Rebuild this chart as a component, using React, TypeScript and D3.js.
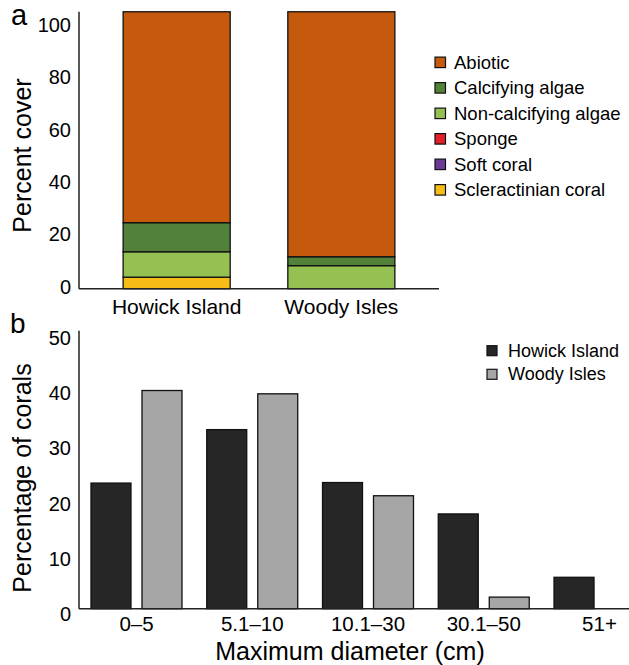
import React from 'react'
import * as d3 from 'd3'

// panel a: benthic cover per site
const sites = ['Howick Island', 'Woody Isles']
const coverCats = [
  'Scleractinian coral',
  'Soft coral',
  'Sponge',
  'Non-calcifying algae',
  'Calcifying algae',
  'Abiotic',
]
const howickCover = [4.4, 0, 0, 9.7, 11.1, 80.5]
const woodyCover = [0, 0, 0, 8.8, 3.4, 93.5]
const coverColors = ['#F7BD17', '#6B3A97', '#E3202A', '#94C152', '#52813A', '#C55A0E']
const coverTicks = [0, 20, 40, 60, 80, 100]
const legendOrder = [
  'Abiotic',
  'Calcifying algae',
  'Non-calcifying algae',
  'Sponge',
  'Soft coral',
  'Scleractinian coral',
]

// panel b: size classes
const sizeClasses = ['0–5', '5.1–10', '10.1–30', '30.1–50', '51+']
const howickSizes = [22.8, 32.5, 22.9, 17.2, 5.7]
const woodySizes = [39.6, 39.0, 20.5, 2.1, 0]
const sizeTicks = [0, 10, 20, 30, 40, 50]
const siteColors = ['#262626', '#A6A6A6']

const FONT = '"Liberation Sans", Arial, Helvetica, sans-serif'

export default function App() {
  const W = 629
  const H = 665
  const axisX = 79

  // ---- panel a scales
  const yA = d3.scaleLinear().domain([0, 100]).range([288.7, 26.7])
  const xA = d3.scaleBand<string>().domain(sites).range([79, 439]).paddingInner(0.35).paddingOuter(0.268)
  const coverColor = d3.scaleOrdinal<string, string>().domain(coverCats).range(coverColors)
  const coverRows = [howickCover, woodyCover].map((vals, i) => {
    const row: Record<string, any> = { site: sites[i] }
    coverCats.forEach((c, j) => (row[c] = vals[j]))
    return row
  })
  const stacked = d3.stack<Record<string, any>>().keys(coverCats)(coverRows)
  const topA = d3.max(stacked[stacked.length - 1], (d) => d[1]) as number

  // ---- panel b scales
  const yB = d3.scaleLinear().domain([0, 50]).range([608.7, 333.2])
  const xB = d3.scaleBand<string>().domain(sizeClasses).range([79, 657]).paddingInner(0.214).paddingOuter(0.1036)
  const xSite = d3.scaleBand<string>().domain(sites).range([0, xB.bandwidth()]).paddingInner(0.216)
  const sizeSeries = [howickSizes, woodySizes]

  return (
    <svg width={W} height={H} style={{ position: 'absolute', left: 0, top: 0, fontFamily: FONT }}>
      <rect width={W} height={H} fill="#fff" />

      {/* panel a */}
      <text x={11} y={25} fontSize={29}>a</text>
      {stacked.map((layer) =>
        layer.map((d, i) =>
          d[1] - d[0] > 0 ? (
            <rect
              key={layer.key + i}
              x={xA(sites[i])}
              y={yA(d[1])}
              width={xA.bandwidth()}
              height={yA(d[0]) - yA(d[1])}
              fill={coverColor(layer.key)}
              stroke="#111"
              strokeWidth={1.3}
            />
          ) : null
        )
      )}
      <line x1={axisX} x2={axisX} y1={yA(topA)} y2={yA(0)} stroke="#222" strokeWidth={1.5} />
      <line x1={axisX} x2={439} y1={yA(0)} y2={yA(0)} stroke="#222" strokeWidth={1.5} />
      {coverTicks.map((t) => (
        <text key={t} x={71} y={yA(t) - 2} fontSize={20} textAnchor="end" dominantBaseline="central">
          {t}
        </text>
      ))}
      {sites.map((s) => (
        <text key={s} x={(xA(s) as number) + xA.bandwidth() / 2} y={314} fontSize={21} textAnchor="middle">
          {s}
        </text>
      ))}
      <text transform={`translate(31,155.5) rotate(-90)`} fontSize={25} textAnchor="middle">
        Percent cover
      </text>
      {legendOrder.map((c, i) => (
        <g key={c} transform={`translate(435,${62.3 + i * 25.5})`}>
          <rect x={0} y={-5.2} width={10.5} height={10.5} fill={coverColor(c)} stroke="#111" strokeWidth={1.2} />
          <text x={19} y={0} fontSize={18.5} dominantBaseline="central">{c}</text>
        </g>
      ))}

      {/* panel b */}
      <text x={10} y={333} fontSize={28}>b</text>
      {sizeClasses.map((c, i) => (
        <g key={c} transform={`translate(${xB(c)},0)`}>
          {sizeSeries.map((vals, j) =>
            vals[i] > 0 ? (
              <rect
                key={j}
                x={xSite(sites[j])}
                y={yB(vals[i])}
                width={xSite.bandwidth()}
                height={yB(0) - yB(vals[i])}
                fill={siteColors[j]}
                stroke="#111"
                strokeWidth={1.3}
              />
            ) : null
          )}
        </g>
      ))}
      <line x1={axisX} x2={axisX} y1={330.7} y2={yB(0)} stroke="#222" strokeWidth={1.5} />
      <line x1={axisX} x2={629} y1={yB(0)} y2={yB(0)} stroke="#222" strokeWidth={1.5} />
      {sizeTicks.map((t) => (
        <text key={t} x={71} y={yB(t) + 5} fontSize={20} textAnchor="end" dominantBaseline="central">
          {t}
        </text>
      ))}
      {sizeClasses.map((c) => (
        <text key={c} x={(xB(c) as number) + xB.bandwidth() / 2} y={631} fontSize={20.5} textAnchor="middle">
          {c}
        </text>
      ))}
      <text x={350} y={660} fontSize={25} textAnchor="middle">
        Maximum diameter (cm)
      </text>
      <text transform={`translate(31,478) rotate(-90)`} fontSize={25} textAnchor="middle">
        Percentage of corals
      </text>
      {sites.map((s, i) => (
        <g key={s} transform={`translate(487,${350.7 + i * 23.6})`}>
          <rect x={0} y={-5} width={10} height={10} fill={siteColors[i]} stroke="#111" strokeWidth={1.2} />
          <text x={21} y={0} fontSize={18} dominantBaseline="central">{s}</text>
        </g>
      ))}
    </svg>
  )
}
